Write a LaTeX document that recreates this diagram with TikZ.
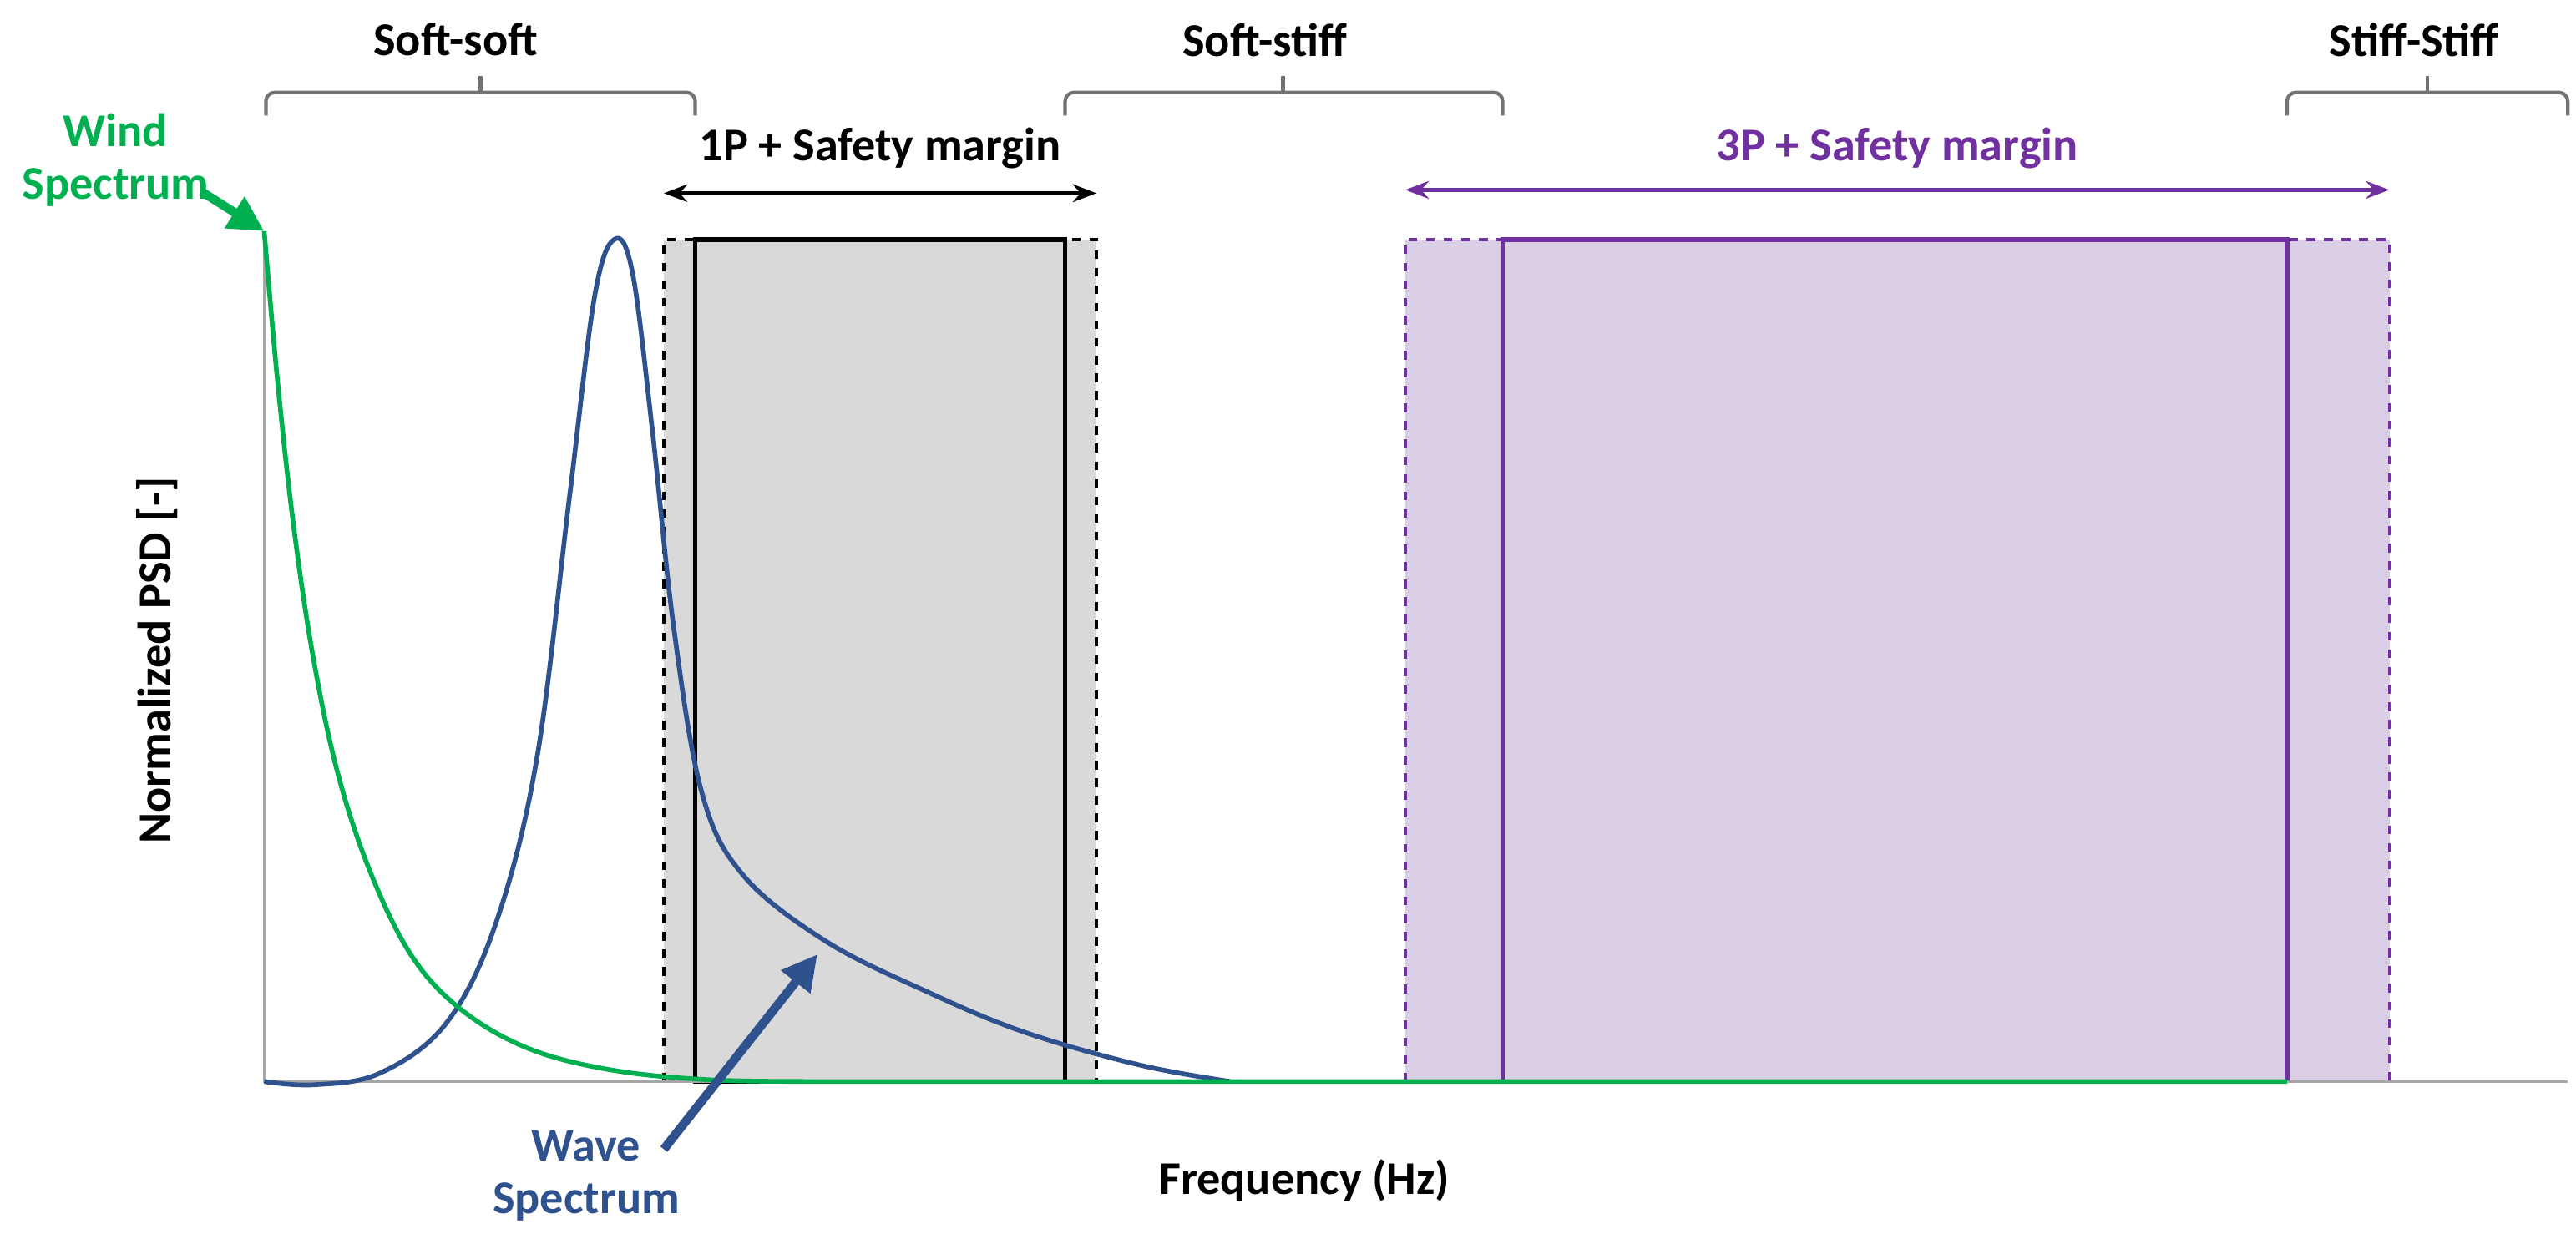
\documentclass[tikz,border=0pt]{standalone}
\usepackage{fontspec}
\setmainfont{Carlito}
\usetikzlibrary{arrows.meta}
\definecolor{wgreen}{RGB}{0,176,80}
\definecolor{wblue}{RGB}{47,82,143}
\definecolor{pviol}{RGB}{112,48,160}
\definecolor{pfill}{RGB}{217,206,230}
\definecolor{gfill}{RGB}{217,217,217}
\begin{document}
\begin{tikzpicture}[x=0.019776cm,y=-0.019776cm,
  lbl/.style={font=\fontsize{16}{18}\selectfont\bfseries},
  brace/.style={draw=gray!90!black,line width=1.2pt,rounded corners=3pt},
  ax/.style={draw=gray!70,line width=1pt}]
\useasboundingbox (0,0) rectangle (1560,747);
% boxes
\path[fill=gfill] (402,145) rectangle (664,655);
\draw[dashed,line width=1pt] (402,655) -- (402,145) -- (664,145) -- (664,655);
\draw[line width=1.6pt] (421,655) rectangle (645,145);
\path[fill=pfill] (851,145) rectangle (1447,655);
\draw[dashed,pviol,line width=1pt] (851,655) -- (851,145) -- (1447,145) -- (1447,655);
\draw[pviol,line width=1.6pt] (910,655) -- (910,145) -- (1385,145) -- (1385,655);
% axes
\draw[ax] (160,140) -- (160,655) -- (1555,655);
% curves
\draw[wblue,line width=1.6pt] plot[smooth,tension=0.6] coordinates {(160,655) (190,657) (230,650) (270,620) (300,560) (325,460) (345,300) (360,180) (372,145) (383,165) (395,260) (408,380) (425,480) (450,530) (500,570) (560,600) (620,625) (690,645) (745,655)};
\draw[wgreen,line width=1.6pt] plot[smooth,tension=0.6] coordinates {(160,140) (168,230) (178,320) (190,400) (205,470) (225,530) (250,580) (280,612) (320,635) (370,648) (430,654) (500,655)} -- (1385,655);
% arrows
\node[lbl] (p1) at (533,90) {1P + Safety margin};
\coordinate (a1l) at (402,117); \coordinate (a1r) at (664,117);
\draw[{Stealth[length=8pt]}-{Stealth[length=8pt]},line width=1.4pt] (a1l) -- (a1r);
\node[lbl,text=pviol] (p3) at (1149,90) {3P + Safety margin};
\coordinate (a3l) at (851,115); \coordinate (a3r) at (1447,115);
\draw[pviol,{Stealth[length=8pt]}-{Stealth[length=8pt]},line width=1.4pt] (a3l) -- (a3r);
% braces
\draw[brace] (161,70) -- (161,56) -- (421,56) -- (421,70);
\draw[brace] (291,56) -- (291,46);
\draw[brace] (645,70) -- (645,56) -- (910,56) -- (910,70);
\draw[brace] (777,56) -- (777,46);
\draw[brace] (1385,70) -- (1385,56) -- (1555,56) -- (1555,70);
\draw[brace] (1470,56) -- (1470,46);
\node[lbl] (ss) at (276,24) {Soft-soft};
\node[lbl] (sst) at (766,24) {Soft-stiff};
\node[lbl] (stst) at (1462,24) {Stiff-Stiff};
% labels
\node[lbl,text=wgreen,align=center] (wind) at (70,97) {Wind\\Spectrum};
\coordinate (wtip) at (160,140);
\draw[wgreen,line width=3pt,-{Triangle[length=12pt,width=12pt]}] (122,116) -- (wtip);
\node[lbl,text=wblue,align=center] (wave) at (355,712) {Wave\\Spectrum};
\coordinate (vtip) at (495,578);
\draw[wblue,line width=3pt,-{Triangle[length=12pt,width=12pt]}] (402,696) -- (vtip);
\node[lbl,rotate=90] (yl) at (95,400) {Normalized PSD [-]};
\node[lbl] (xl) at (790,715) {Frequency (Hz)};
\end{tikzpicture}
\end{document}
